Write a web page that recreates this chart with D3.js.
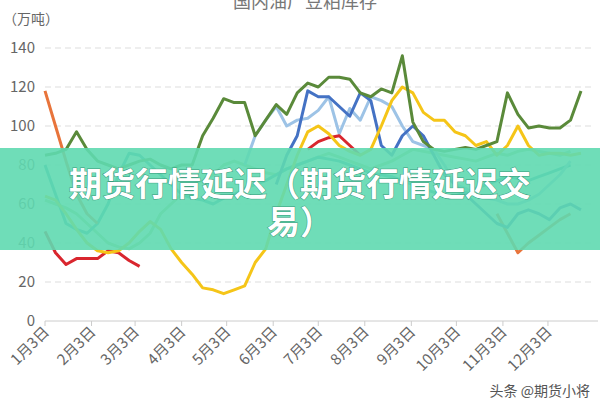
<!DOCTYPE html>
<html>
<head>
<meta charset="utf-8">
<script src="https://cdn.jsdelivr.net/npm/d3@7.9.0/dist/d3.min.js"></script>
<style>
  body { margin: 0; background: #fff; }
  svg { display: block; font-family: "Noto Sans CJK SC", "Noto Sans", sans-serif; }
</style>
</head>
<body>
<svg id="chart" width="600" height="400"></svg>
<script>
// weekly stocks (万吨), week 0 = 1月3日
const darkGreen = [85,86,88,97,88,82,80,78,80,82,83,80,78,80,80,95,104,114,112,112,95,103,111,106,117,122,120,125,125,124,117,115,119,117,136,102,92,88,87,88,89,88,90,92,117,106,99,100,99,99,103,118];
const yellow = [64,62,55,47,40,36,35,36,40,46,51,47,37,30,24,17,16,14,16,18,30,37,55,70,85,97,100,96,90,87,85,88,100,113,120,117,107,103,103,97,95,90,92,85,90,100,90,85,86,86,85,86];
const red = [46,35,29,32,32,32,36,35,31,28,null,null,null,null,null,null,null,null,null,null,null,null,null,null,null,88,92,94,95,90,85];
const orange = [118,100,82,65,55,50,null,null,null,null,null,null,null,null,null,null,null,null,null,null,null,null,null,null,null,null,null,null,null,null,null,null,null,null,null,null,null,null,null,null,null,null,null,55,45,35,40,44,48,52,55];
const lightBlue = [null,null,null,null,null,null,null,null,null,null,null,null,null,null,null,null,null,null,null,80,95,103,110,100,103,104,108,115,96,109,103,115,113,110,100,92,90,88,80,70,68,65,63,62,60,60,62,65,70,75,82];
const blue = [null,null,null,null,null,null,null,null,null,null,null,null,null,null,null,null,null,null,null,null,null,null,70,85,95,118,115,115,110,105,117,113,90,85,95,100,95,85,75,70,65,60,55,50,48,55,57,55,52,58,60,57];
const teal = [80,65,50,47,45,50,60,75,86,85,80,75,70,65,63,62,60,63,65,68,70,72,75,78,80,82,84,83,82,80,78,76,75,74,72,70,68,66,65,64,66,68,70,72,74,73,72,74,76,78,80];
const lightGreen = [62,60,58,55,50,45,40,38,37,40,45,55,60,65,70,72,75,80,82,80,78,76,75,78,80,82,84,86,84,82,80,78,80,82,85,88,87,86,85,84,83,82,84,86,85,87,88,87,86,85,87];
const monthLabels = ["1月3日","2月3日","3月3日","4月3日","5月3日","6月3日","7月3日","8月3日","9月3日","10月3日","11月3日","12月3日"];

const series = [
  { values: lightGreen, color: "#a9d18e" },
  { values: teal, color: "#3fa7b5" },
  { values: lightBlue, color: "#9dc3e6" },
  { values: orange, color: "#e8743b" },
  { values: red, color: "#d9262e" },
  { values: blue, color: "#4472c4" },
  { values: yellow, color: "#f5c518" },
  { values: darkGreen, color: "#5a8a3a" },
];

const svg = d3.select("#chart");
const start = new Date(2020, 0, 3);
const day = 86400000;
const x = d3.scaleTime().domain([start, new Date(2020, 11, 31)]).range([45, 590]);
const y = d3.scaleLinear().domain([0, 140]).range([321, 48]);

// title (cut at top)
svg.append("text").attr("x", 305).attr("y", 8).attr("text-anchor", "middle")
  .attr("font-size", 18).attr("fill", "#777").text("国内油厂豆粕库存");
svg.append("text").attr("x", 3).attr("y", 24).attr("font-size", 14).attr("fill", "#666").text("（万吨）");

// grid + y labels
svg.append("g").selectAll("line").data(d3.range(20, 141, 20)).join("line")
  .attr("x1", 45).attr("x2", 595).attr("y1", y).attr("y2", y)
  .attr("stroke", "#ddd").attr("stroke-dasharray", "6,4");
svg.append("g").selectAll("text").data(d3.range(0, 141, 20)).join("text")
  .attr("x", 35).attr("y", d => y(d) + 5).attr("text-anchor", "end")
  .attr("font-size", 15).attr("fill", "#666").text(d => d);
svg.append("line").attr("x1", 45).attr("x2", 598).attr("y1", y(0)).attr("y2", y(0)).attr("stroke", "#ccc");

// x ticks + rotated labels
const months = d3.range(12).map(m => new Date(2020, m, 3));
const xt = svg.append("g").selectAll("g").data(months).join("g")
  .attr("transform", d => `translate(${x(d)},${y(0)})`);
xt.append("line").attr("y2", 5).attr("stroke", "#ccc");
xt.append("text").attr("transform", "translate(5,12) rotate(-45)").attr("text-anchor", "end")
  .attr("font-size", 15).attr("fill", "#666").text((d, i) => monthLabels[i]);

// lines
const line = d3.line().defined(d => d != null)
  .x((d, i) => x(new Date(start.getTime() + i * 7 * day))).y(d => y(d));
svg.append("g").selectAll("path").data(series).join("path")
  .attr("d", s => line(s.values)).attr("fill", "none")
  .attr("stroke", s => s.color).attr("stroke-width", 3).attr("stroke-linejoin", "round");

// banner overlay
svg.append("rect").attr("x", 0).attr("y", 148).attr("width", 600).attr("height", 102)
  .attr("fill", "#5fd9b0").attr("fill-opacity", 0.9);
const bt = svg.append("g").attr("font-size", 33).attr("font-weight", "bold").attr("fill", "#fff")
  .attr("text-anchor", "middle").attr("stroke", "#3a9a7a").attr("stroke-width", 1).attr("paint-order", "stroke");
bt.append("text").attr("x", 300).attr("y", 196).text("期货行情延迟（期货行情延迟交");
bt.append("text").attr("x", 300).attr("y", 234).text("易）");

svg.append("text").attr("x", 590).attr("y", 396).attr("text-anchor", "end")
  .attr("font-size", 14).attr("fill", "#555").text("头条 @期货小将");
</script>
</body>
</html>
